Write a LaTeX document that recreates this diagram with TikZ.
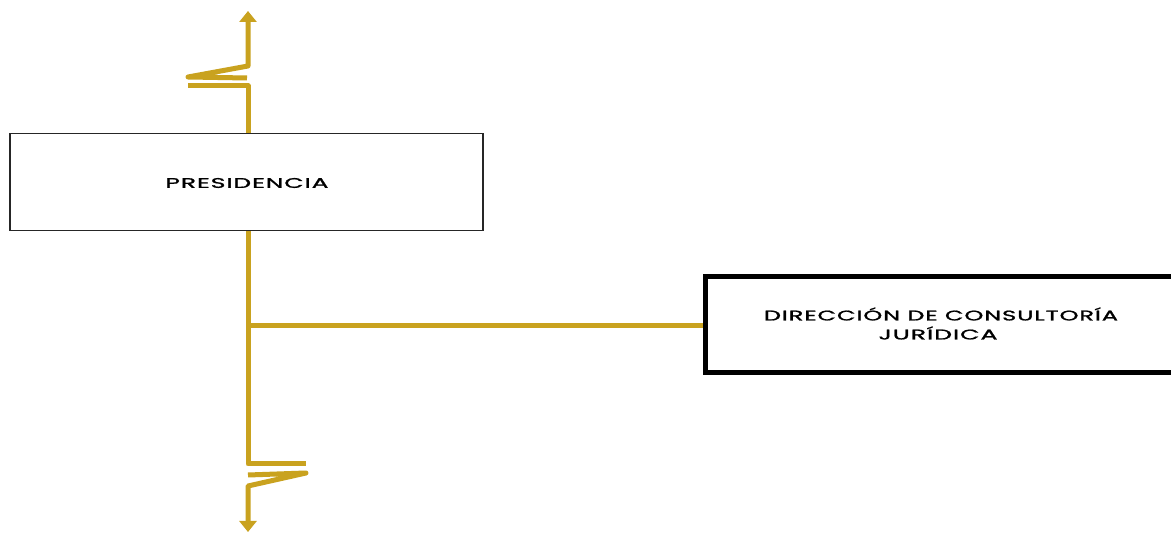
\documentclass[tikz,border=0pt]{standalone}
\usepackage{fontspec}
\usepackage{graphicx}
\usetikzlibrary{arrows.meta}
\newfontfamily\lblfont[LetterSpace=4,FakeBold=1.2]{Poppins}
\definecolor{gold}{HTML}{C9A21F}
\tikzset{
  goldline/.style={draw=gold, line width=5pt, line join=round},
  goldarrow/.style={goldline, -{Triangle[width=17pt,length=11pt]}},
  presbox/.style={draw=black!85, line width=1.6pt, fill=white, minimum width=473pt, minimum height=97pt, inner sep=0pt},
  dirbox/.style={draw=black, line width=5pt, fill=white, minimum width=475pt, minimum height=96pt, inner sep=0pt},
  lbl/.style={font=\fontsize{14}{16}\lblfont, text=black, align=center}
}
\begin{document}
\begin{tikzpicture}[x=1pt,y=-1pt]
\useasboundingbox (0,0) rectangle (1171,534);
\clip (0,0) rectangle (1171,534);
\fill[white] (0,0) rectangle (1171,534);
% coordinates on the trunk line
\coordinate (topend) at (248,11);
\coordinate (botend) at (248,532);
\coordinate (junc) at (248,326);
% boxes
\node[presbox] (pres) at (246.5,182) {};
\node[dirbox] (dir) at (942.5,325) {};
% trunk and breaks (drawn behind box borders)
\draw[goldline] (pres.north -| topend) -- (248,86) -- (188,86);
\draw[goldarrow] (247,78) -- (188,77) -- (248,66) -- (topend);
\draw[goldline] (pres.south -| topend) -- (248,464) -- (306,464);
\draw[goldarrow] (248,475) -- (306,473) -- (248,486) -- (botend);
\draw[goldline] (junc) -- (junc -| dir.west);
% redraw boxes on top
\node[presbox] at (pres.center) {};
\node[dirbox] at (dir.center) {};
% labels
\node[lbl] (presl) at (247,183) {\resizebox{163pt}{\height}{PRESIDENCIA}};
\node[lbl] (dirl1) at (941,314) {\resizebox{354pt}{\height}{DIRECCIÓN DE CONSULTORÍA}};
\node[lbl] (dirl2) at (938,333) {\resizebox{119pt}{\height}{JURÍDICA}};
\end{tikzpicture}
\end{document}
